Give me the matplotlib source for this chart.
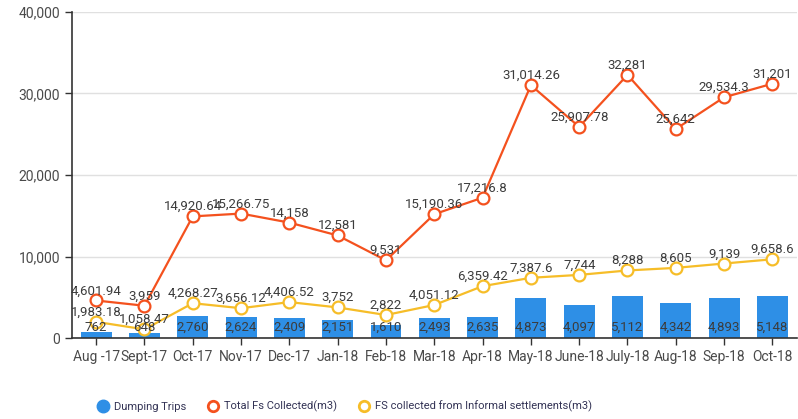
import matplotlib
matplotlib.use('Agg')
import matplotlib.pyplot as plt
from matplotlib.lines import Line2D

months = ['Aug -17', 'Sept-17', 'Oct-17', 'Nov-17', 'Dec-17', 'Jan-18', 'Feb-18', 'Mar-18',
          'Apr-18', 'May-18', 'June-18', 'July-18', 'Aug-18', 'Sep-18', 'Oct-18']
dumping_trips = [762, 648, 2760, 2624, 2409, 2151, 1610, 2493, 2635, 4873, 4097, 5112, 4342, 4893, 5148]
total_fs = [4601.94, 3959, 14920.64, 15266.75, 14158, 12581, 9531, 15190.36, 17216.8,
            31014.26, 25907.78, 32281, 25642, 29534.3, 31201]
informal_fs = [1983.18, 1058.47, 4268.27, 3656.12, 4406.52, 3752, 2822, 4051.12, 6359.42,
               7387.6, 7744, 8288, 8605, 9139, 9658.6]
total_lbl = ['4,601.94', '3,959', '14,920.64', '15,266.75', '14,158', '12,581', '9,531', '15,190.36',
             '17,216.8', '31,014.26', '25,907.78', '32,281', '25,642', '29,534.3', '31,201']
informal_lbl = ['1,983.18', '1,058.47', '4,268.27', '3,656.12', '4,406.52', '3,752', '2,822', '4,051.12',
                '6,359.42', '7,387.6', '7,744', '8,288', '8,605', '9,139', '9,658.6']

BLUE = '#2e8fe6'
RED = '#f4511e'
YELLOW = '#f6bd28'
TXT = '#3c3c3c'

plt.rcParams['font.family'] = ['Roboto', 'DejaVu Sans']

fig = plt.figure(figsize=(7.98, 4.19), dpi=100)
ax = fig.add_axes([0.0902, 0.1933, 0.908, 0.7781])

x = list(range(len(months)))
ax.bar(x, dumping_trips, width=0.64, color=BLUE, zorder=2)
ax.plot(x, total_fs, '-o', color=RED, lw=1.6, ms=8.5, mfc='white', mec=RED, mew=1.6, zorder=3)
ax.plot(x, informal_fs, '-o', color=YELLOW, lw=1.6, ms=8.5, mfc='white', mec=YELLOW, mew=1.6, zorder=3)

# value labels (overlaps kept as in the original)
for i, v in enumerate(dumping_trips):
    ax.text(i, 1300, f'{v:,}', ha='center', va='center', fontsize=9.5, color=TXT, zorder=4)
for i, v in enumerate(total_fs):
    ax.annotate(total_lbl[i], (i, v), xytext=(0, 7), textcoords='offset points',
                ha='center', va='center', fontsize=9.5, color=TXT, zorder=4)
for i, v in enumerate(informal_fs):
    ax.annotate(informal_lbl[i], (i, v), xytext=(0, 7), textcoords='offset points',
                ha='center', va='center', fontsize=9.5, color=TXT, zorder=4)

ax.set_xlim(-0.5, len(months) - 0.5)
ax.set_ylim(0, 40000)
ax.set_yticks([0, 10000, 20000, 30000, 40000])
ax.set_yticklabels(['0', '10,000', '20,000', '30,000', '40,000'])
ax.set_xticks(x)
ax.set_xticklabels(months)
ax.tick_params(axis='both', labelsize=10, colors='#333333', labelcolor='#4a4a4a', length=5, width=1)
ax.yaxis.grid(True, color='#e0e0e0', lw=1, zorder=0)
ax.set_axisbelow(True)
for s in ['top', 'right']:
    ax.spines[s].set_visible(False)
for s in ['left', 'bottom']:
    ax.spines[s].set_color('#333333')
    ax.spines[s].set_linewidth(1.2)

handles = [
    Line2D([], [], ls='', marker='o', ms=9, color=BLUE),
    Line2D([], [], ls='', marker='o', ms=7.5, mfc='white', mec=RED, mew=2),
    Line2D([], [], ls='', marker='o', ms=7.5, mfc='white', mec=YELLOW, mew=2),
]
labels = ['Dumping Trips', 'Total Fs Collected(m3)', 'FS collected from Informal settlements(m3)']
fig.legend(handles, labels, loc='center', bbox_to_anchor=(0.43, 0.03), ncol=3, frameon=False,
           fontsize=8, handletextpad=0.2, columnspacing=1.6, handlelength=1.6,
           labelcolor='#333355')

fig.savefig('out.png', dpi=100)
